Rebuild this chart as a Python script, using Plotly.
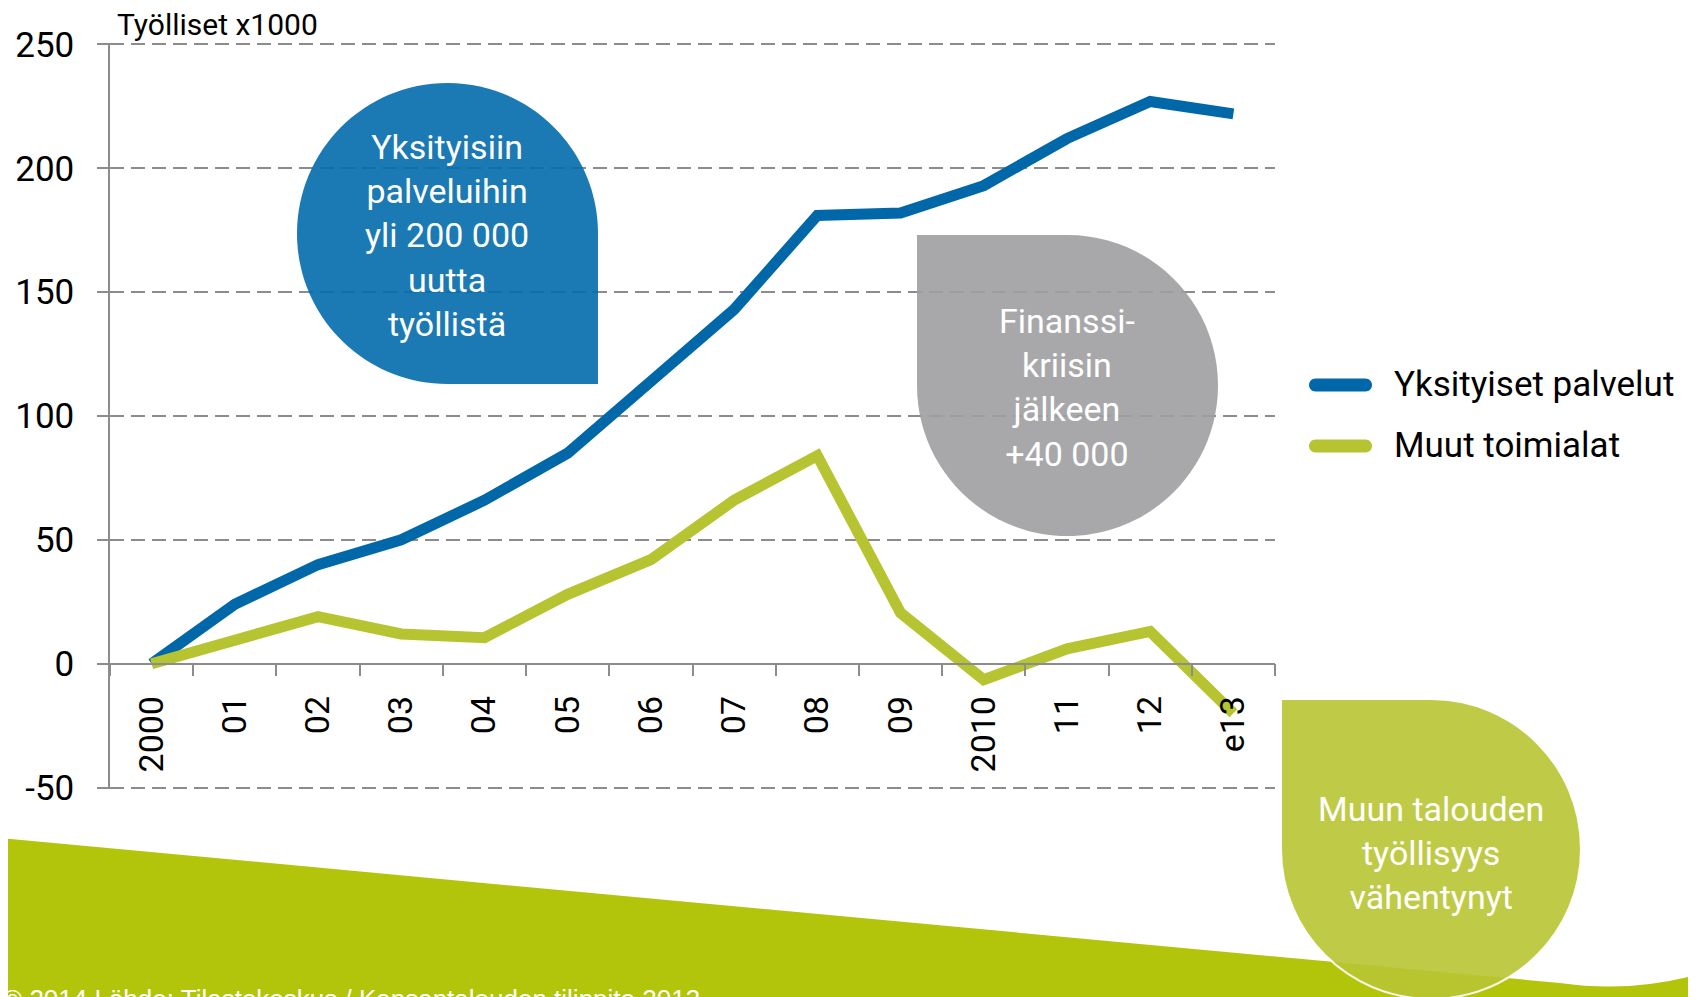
import plotly.graph_objects as go

# data (työlliset x1000, muutos vuodesta 2000)
years = ['2000', '01', '02', '03', '04', '05', '06', '07', '08', '09', '2010', '11', '12', 'e13']
yksityiset_palvelut = [0, 24, 40, 50, 66, 85, 114, 143, 181, 182, 193, 212, 227, 222]
muut_toimialat = [0, 10, 19, 12, 10.5, 28, 42, 66, 84, 20.5, -6.5, 6, 13, -20]
y_ticks = [-50, 0, 50, 100, 150, 200, 250]
series_names = ['Yksityiset palvelut', 'Muut toimialat']

# page body has an 8px margin, so the figure is 8px smaller and all
# positions below are given in page pixels and shifted by OFF
OFF = 8
W, H = 1696 - OFF, 997 - OFF
L, R, T, B = 102, 421, 35, 208
PW, PH = W - L - R, H - T - B
Y_RANGE = [-50.6, 250.6]

BLUE = '#0068a9'
GREEN = '#b7c431'
GRID = '#8c8c8c'
FONT = 'Roboto'


def px(x, y):
    # page pixel -> paper coords
    return (x - OFF - L) / PW, (H - B - (y - OFF)) / PH


def p(x, y):
    a, b = px(x, y)
    return f'{a:.5f},{b:.5f}'


def drop_path(x0, y0, size, square):
    r = size / 2
    k = 0.5523 * r
    cx, cy = x0 + r, y0 + r
    d = 'M' + p(cx, y0)
    if square == 'tr':
        d += ' L' + p(x0 + size, y0) + ' L' + p(x0 + size, cy)
    else:
        d += ' C' + p(cx + k, y0) + ' ' + p(x0 + size, cy - k) + ' ' + p(x0 + size, cy)
    if square == 'br':
        d += ' L' + p(x0 + size, y0 + size) + ' L' + p(cx, y0 + size)
    else:
        d += ' C' + p(x0 + size, cy + k) + ' ' + p(cx + k, y0 + size) + ' ' + p(cx, y0 + size)
    if square == 'bl':
        d += ' L' + p(x0, y0 + size) + ' L' + p(x0, cy)
    else:
        d += ' C' + p(cx - k, y0 + size) + ' ' + p(x0, cy + k) + ' ' + p(x0, cy)
    if square == 'tl':
        d += ' L' + p(x0, y0) + ' L' + p(cx, y0)
    else:
        d += ' C' + p(x0, cy - k) + ' ' + p(cx - k, y0) + ' ' + p(cx, y0)
    return d + ' Z'


def stadium(x0, x1, yc, h):
    r = h / 2
    k = 0.5523 * r
    d = 'M' + p(x0 + r, yc - r) + ' L' + p(x1 - r, yc - r)
    d += ' C' + p(x1 - r + k, yc - r) + ' ' + p(x1, yc - k) + ' ' + p(x1, yc)
    d += ' C' + p(x1, yc + k) + ' ' + p(x1 - r + k, yc + r) + ' ' + p(x1 - r, yc + r)
    d += ' L' + p(x0 + r, yc + r)
    d += ' C' + p(x0 + r - k, yc + r) + ' ' + p(x0, yc + k) + ' ' + p(x0, yc)
    d += ' C' + p(x0, yc - k) + ' ' + p(x0 + r - k, yc - r) + ' ' + p(x0 + r, yc - r)
    return d + ' Z'


fig = go.Figure()

fig.add_trace(go.Scatter(x=years, y=yksityiset_palvelut, name=series_names[0],
                         mode='lines', line=dict(color=BLUE, width=11), hoverinfo='skip'))
fig.add_trace(go.Scatter(x=years, y=muut_toimialat, name=series_names[1],
                         mode='lines', line=dict(color=GREEN, width=11), hoverinfo='skip'))

# green ground band
band = ('M' + p(0, 838) + ' L' + p(1560, 983) + ' Q' + p(1630, 993) + ' ' + p(1696, 975)
        + ' L' + p(1700, 1005) + ' L' + p(-5, 1005) + ' Z')

shapes = [
    dict(type='path', path=band, xref='paper', yref='paper', fillcolor='#b3c50a',
         line=dict(width=0), layer='above'),
    dict(type='path', path=drop_path(297, 83, 301, 'br'), xref='paper', yref='paper',
         fillcolor='#026aac', opacity=0.9, line=dict(width=0), layer='above'),
    dict(type='path', path=drop_path(917, 235, 301, 'tl'), xref='paper', yref='paper',
         fillcolor='#9e9fa1', opacity=0.9, line=dict(width=0), layer='above'),
    dict(type='path', path=drop_path(1281, 699, 300, 'tl'), xref='paper', yref='paper',
         fillcolor='#b9c634', opacity=0.9, line=dict(width=2, color='white'), layer='above'),
    # legend keys
    dict(type='path', path=stadium(1309, 1372, 385, 13), xref='paper', yref='paper',
         fillcolor=BLUE, line=dict(width=0), layer='above'),
    dict(type='path', path=stadium(1309, 1372, 446, 13), xref='paper', yref='paper',
         fillcolor=GREEN, line=dict(width=0), layer='above'),
]

annotations = []


def note(text, x, y, size, color='white', xanchor='center', yanchor='middle', family=FONT):
    a, b = px(x, y)
    annotations.append(dict(text=text, x=a, y=b, xref='paper', yref='paper', showarrow=False,
                            xanchor=xanchor, yanchor=yanchor, align='center', borderpad=0,
                            font=dict(size=size, color=color, family=family)))


note('Yksityisiin<br>palveluihin<br>yli 200 000<br>uutta<br>työllistä', 447, 236, 34)
note('Finanssi-<br>kriisin<br>jälkeen<br>+40 000', 1067, 387, 34)
note('Muun talouden<br>työllisyys<br>vähentynyt', 1431, 853, 34)
note('Työlliset x1000', 116, 24, 30, color='black', xanchor='left')
note(series_names[0], 1393, 384, 35, color='black', xanchor='left')
note(series_names[1], 1393, 445, 35, color='black', xanchor='left')
note('© 2014 Lähde: Tilastokeskus / Kansantalouden tilinpito 2013', 2, 983, 26,
     xanchor='left', yanchor='top', family='Liberation Sans')

fig.update_layout(
    width=W, height=H,
    margin=dict(l=L, r=R, t=T, b=B),
    paper_bgcolor='white', plot_bgcolor='white',
    font=dict(family=FONT, color='black'),
    showlegend=False,
    shapes=shapes,
    annotations=annotations,
    xaxis=dict(type='category', categoryorder='array', categoryarray=years,
               range=[-0.5, 13.5], anchor='free', automargin=False,
               position=(0 - Y_RANGE[0]) / (Y_RANGE[1] - Y_RANGE[0]),
               showline=True, linecolor=GRID, linewidth=1.5,
               ticks='outside', tickson='boundaries', ticklen=12, tickcolor=GRID, tickwidth=1.5,
               tickangle=-90, tickfont=dict(size=34, family=FONT, color='black'),
               ticklabelstandoff=18, showgrid=False, zeroline=False),
    yaxis=dict(range=Y_RANGE, tickvals=y_ticks, ticktext=[str(v) for v in y_ticks],
               automargin=False, showline=True, linecolor=GRID, linewidth=1.5,
               ticks='outside', ticklen=11, tickcolor=GRID, tickwidth=1.5,
               tickfont=dict(size=35, family=FONT, color='black'), ticklabelstandoff=16,
               showgrid=True, gridcolor=GRID, gridwidth=1.8, griddash='14px,7px',
               zeroline=False),
)

fig.write_html('out.html')
